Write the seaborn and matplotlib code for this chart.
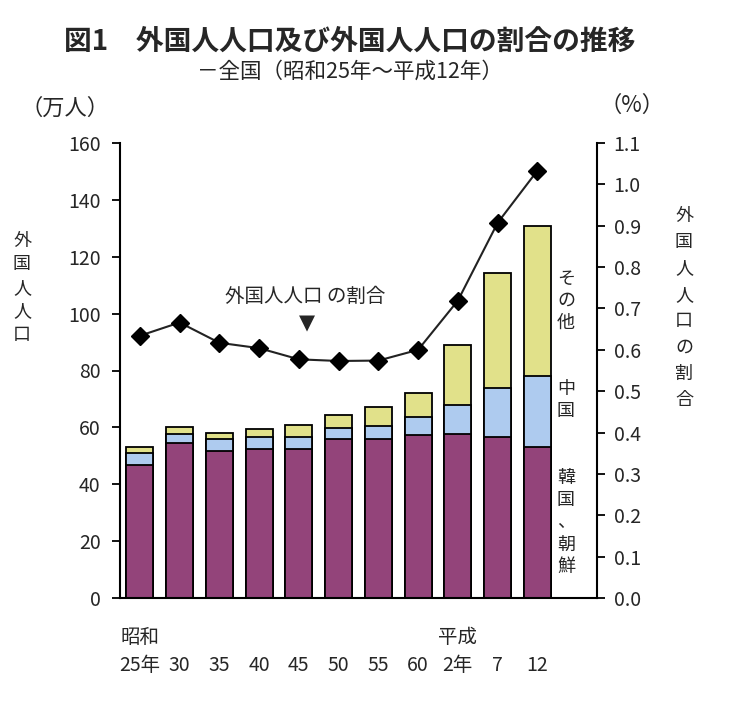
import matplotlib
matplotlib.use("Agg")
import matplotlib.pyplot as plt
import seaborn as sns
import numpy as np
import pandas as pd

sns.set_theme(style="white")
plt.rcParams['font.family'] = ['Noto Sans CJK JP', 'DejaVu Sans']

# ---- data ----
categories = ["昭和25年", "30", "35", "40", "45", "50", "55", "60", "平成2年", "7", "12"]
era_labels = ["昭和", "", "", "", "", "", "", "", "平成", "", ""]
year_labels = ["25年", "30", "35", "40", "45", "50", "55", "60", "2年", "7", "12"]
korea = [46.8, 54.6, 51.7, 52.4, 52.3, 56.0, 56.0, 57.4, 57.5, 56.7, 53.2]
china = [4.1, 3.1, 4.1, 4.1, 4.2, 3.9, 4.5, 6.4, 10.2, 17.0, 25.0]
others = [2.3, 2.5, 2.3, 3.0, 4.3, 4.4, 6.8, 8.2, 21.3, 40.7, 52.7]
ratio = [0.634, 0.666, 0.617, 0.604, 0.577, 0.573, 0.574, 0.600, 0.719, 0.907, 1.033]

df = pd.DataFrame({"cat": categories, "korea": korea, "china": china, "others": others, "ratio": ratio})
df["kc"] = df["korea"] + df["china"]
df["total"] = df["kc"] + df["others"]

c_korea = "#93447A"
c_china = "#AECBEF"
c_other = "#E1E18A"

fig = plt.figure(figsize=(7.30, 7.08), dpi=100)
ax = fig.add_axes([120/730, 1-598/708, (597-120)/730, (598-143)/708])

bw = 0.68
sns.barplot(data=df, x="cat", y="total", order=categories, color=c_other, width=bw,
            edgecolor="black", linewidth=1.3, saturation=1, ax=ax)
sns.barplot(data=df, x="cat", y="kc", order=categories, color=c_china, width=bw,
            edgecolor="black", linewidth=1.3, saturation=1, ax=ax)
sns.barplot(data=df, x="cat", y="korea", order=categories, color=c_korea, width=bw,
            edgecolor="black", linewidth=1.3, saturation=1, ax=ax)

ax.set_xlim(-0.5, 11.5)
ax.set_ylim(0, 160)
ax.set_yticks(np.arange(0, 161, 20))
ax.set_xlabel("")
ax.set_ylabel("")
ax.set_xticks(range(len(categories)))
ax.set_xticklabels([f"{e}\n{y}" for e, y in zip(era_labels, year_labels)], fontsize=14, linespacing=1.45)
ax.tick_params(axis="x", length=0, pad=21)
ax.tick_params(axis="y", direction="out", length=6, width=1.3, color="black", labelsize=14, pad=8, left=True)
for s in ["top", "right"]:
    ax.spines[s].set_visible(False)
for s in ["left", "bottom"]:
    ax.spines[s].set_color("black")
    ax.spines[s].set_linewidth(1.5)

ax2 = ax.twinx()
pos = np.arange(len(categories))
ax2.plot(pos, df["ratio"], color="#222222", linewidth=1.5, marker="D", markersize=9,
         markerfacecolor="black", markeredgecolor="black", zorder=5)
ax2.set_ylim(0, 1.1)
ax2.set_xlim(-0.5, 11.5)
ax2.set_yticks(np.round(np.arange(0, 1.11, 0.1), 1))
ax2.set_yticklabels([f"{v:.1f}" for v in np.arange(0, 1.11, 0.1)])
ax2.tick_params(axis="y", direction="out", length=6, width=1.3, color="black", labelsize=14, pad=6, right=True)
for s in ["top", "left", "bottom"]:
    ax2.spines[s].set_visible(False)
ax2.spines["right"].set_color("black")
ax2.spines["right"].set_linewidth(1.5)
ax2.grid(False)
ax.grid(False)

# annotation for line
ax.text(4.15, 106, "外国人人口 の割合", ha="center", va="center", fontsize=14)
ax.text(4.2, 96.5, "▼", ha="center", va="center", fontsize=15, family=["DejaVu Sans"])

# inside segment labels next to last bar
lx = 10.72
last = len(categories) - 1
def vtext(x, y, s, **kw):
    ax.text(x, y, "\n".join(s), ha="center", va="center", fontsize=13, linespacing=1.3, **kw)
vtext(lx, df["kc"][last] + df["others"][last] / 2, "その他")
vtext(lx, df["korea"][last] + df["china"][last] / 2 + 4, "中国")
vtext(lx, df["korea"][last] / 2, "韓国、朝鮮")

# axis titles
fig.text(22/730, 1-288/708, "\n".join("外国人人口"), ha="center", va="center", fontsize=13, linespacing=1.4)
fig.text(684/730, 1-308/708, "\n".join("外国人人口の割合"), ha="center", va="center", fontsize=13, linespacing=1.6)
fig.text(65/730, 1-108/708, "（万人）", ha="center", va="center", fontsize=16)
fig.text(632/730, 1-105/708, "（%）", ha="center", va="center", fontsize=16)

fig.text(350/730, 1-42/708, "図1　外国人人口及び外国人人口の割合の推移", ha="center", va="center",
         fontsize=20, fontweight="bold")
fig.text(350/730, 1-72/708, "－全国（昭和25年～平成12年）", ha="center", va="center", fontsize=15.5)

fig.savefig("out.png", dpi=100)
